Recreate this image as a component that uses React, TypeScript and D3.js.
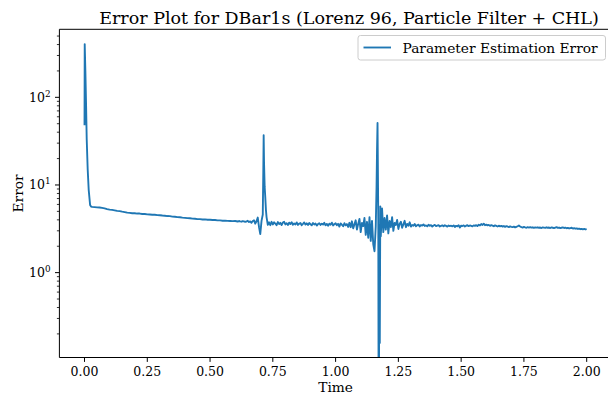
import React from "react";
import * as d3 from "d3";

// ---- data ----
const transientTime = [0, 0.0008, 0.0036, 0.0064, 0.0088, 0.0127, 0.0167, 0.0223, 0.026];
const transientError = [48, 405, 190, 78, 33, 15, 8.8, 5.9, 5.67];

// samples every 0.01 from 0.03 to 0.60
const gridAStart = 0.03;
const gridAStep = 0.01;
const gridAError = [
  5.62, 5.59, 5.56, 5.53, 5.47, 5.41, 5.31,
  5.23, 5.19, 5.14, 5.07, 5.03, 4.96, 4.91, 4.83, 4.80, 4.76,
  4.76, 4.72, 4.72, 4.67, 4.67, 4.62, 4.61, 4.57, 4.58, 4.53,
  4.52, 4.48, 4.46, 4.42, 4.41, 4.36, 4.34, 4.30, 4.28, 4.24,
  4.22, 4.18, 4.17, 4.13, 4.12, 4.08, 4.08, 4.04, 4.05, 4.01,
  4.01, 3.98, 3.98, 3.95, 3.94, 3.91, 3.91, 3.89, 3.88, 3.87,
  3.88,
];

// samples every 0.005 from 0.605 to 2.000
const gridBStart = 0.605;
const gridBStep = 0.005;
const gridBError = [
  3.86, 3.83, 3.88, 3.84, 3.81, 3.87, 3.85, 3.80, 3.83, 3.90,
  3.78, 3.84, 3.70, 3.88, 3.95, 3.62, 3.86, 4.25, 3.30, 2.75,
  3.90, 4.60, 18.0, 7.20, 4.30, 3.50, 3.75, 3.48, 3.80, 3.55,
  3.75, 3.62, 3.48, 3.78, 3.58, 3.70, 3.50, 3.72, 3.80, 3.55,
  3.66, 3.49, 3.72, 3.58, 3.76, 3.52, 3.64, 3.55, 3.74, 3.50,
  3.63, 3.68, 3.48, 3.60, 3.74, 3.53, 3.65, 3.50, 3.68, 3.57,
  3.47, 3.68, 3.54, 3.63, 3.44, 3.58, 3.66, 3.50, 3.62, 3.53,
  3.70, 3.47, 3.60, 3.42, 3.62, 3.52, 3.72, 3.45, 3.57, 3.66,
  3.48, 3.60, 3.35, 3.64, 3.52, 3.38, 3.66, 3.46, 3.58, 3.32,
  3.70, 3.30, 3.85, 3.20, 3.55, 3.95, 3.10, 3.60, 4.10, 2.90,
  3.70, 3.40, 4.20, 2.70, 3.80, 2.50, 4.30, 2.30, 3.90, 2.10,
  1.75, 3.40, 25.0, 4.00, 2.20, 2.60, 5.40, 2.90, 4.20, 3.10,
  4.50, 2.80, 3.90, 3.30, 4.30, 3.00, 3.70, 3.50, 4.00, 3.15,
  3.60, 3.80, 3.25, 3.55, 3.90, 3.30, 3.60, 3.42, 3.75, 3.35,
  3.50, 3.42, 3.58, 3.38, 3.47, 3.53, 3.36, 3.49, 3.44, 3.55,
  3.40, 3.46, 3.37, 3.52, 3.43, 3.48, 3.35, 3.45, 3.50, 3.39,
  3.44, 3.48, 3.36, 3.42, 3.46, 3.38, 3.47, 3.41, 3.35, 3.45,
  3.40, 3.43, 3.37, 3.46, 3.32, 3.42, 3.38, 3.47, 3.28, 3.44,
  3.40, 3.46, 3.36, 3.43, 3.48, 3.39, 3.45, 3.41, 3.37, 3.46,
  3.42, 3.48, 3.40, 3.52, 3.45, 3.58, 3.50, 3.62, 3.47, 3.53,
  3.46, 3.50, 3.42, 3.48, 3.44, 3.38, 3.46, 3.41, 3.36, 3.43,
  3.38, 3.42, 3.35, 3.40, 3.33, 3.39, 3.36, 3.31, 3.37, 3.33,
  3.30, 3.35, 3.28, 3.33, 3.38, 3.45, 3.36, 3.30, 3.27, 3.32,
  3.28, 3.25, 3.30, 3.27, 3.31, 3.26, 3.29, 3.24, 3.28, 3.26,
  3.29, 3.25, 3.27, 3.23, 3.28, 3.26, 3.24, 3.29, 3.25, 3.27,
  3.23, 3.28, 3.25, 3.22, 3.26, 3.30, 3.24, 3.27, 3.22, 3.25,
  3.28, 3.23, 3.26, 3.21, 3.24, 3.19, 3.22, 3.25, 3.18, 3.21,
  3.17, 3.20, 3.15, 3.18, 3.13, 3.16, 3.12, 3.15, 3.11, 3.13,
];

// extra samples at the two spikes
const spikeTime = [0.712, 0.7135, 0.7175, 0.7225, 1.163, 1.167, 1.172, 1.174, 1.176, 1.178];
const spikeError = [14, 37, 9.5, 5.2, 9.3, 51, 0.002, 3.5, 0.158, 5.7];

const xTicks = [0, 0.25, 0.5, 0.75, 1.0, 1.25, 1.5, 1.75, 2.0];
const yMajorExps = [0, 1, 2];

const W = 608;
const H = 396;
const left = 59.4;
const right = 611.8;
const top = 29.3;
const bottom = 357.5;
const FONT = "'DejaVu Serif', serif";

export default function App() {
  const points: [number, number][] = [];
  transientTime.forEach((t, i) => points.push([t, transientError[i]]));
  gridAError.forEach((v, i) => points.push([gridAStart + i * gridAStep, v]));
  gridBError.forEach((v, i) => points.push([gridBStart + i * gridBStep, v]));
  spikeTime.forEach((t, i) => points.push([t, spikeError[i]]));
  points.sort((a, b) => a[0] - b[0]);

  const x = d3.scaleLinear().domain([-0.1, 2.1]).range([left, right]);
  const y = d3.scaleLog().domain([0.1076, 597]).range([bottom, top]);

  const line = d3
    .line<[number, number]>()
    .x((d) => x(d[0]))
    .y((d) => y(d[1]));

  const minor: number[] = [];
  for (let e = -1; e <= 2; e++) {
    for (let m = 2; m <= 9; m++) {
      const v = m * Math.pow(10, e);
      if (v >= 0.1076 && v <= 597) minor.push(v);
    }
  }

  return (
    <svg
      width={W}
      height={H}
      style={{ position: "absolute", left: 0, top: 0, background: "#fff" }}
      fontFamily={FONT}
    >
      <defs>
        <clipPath id="plotclip">
          <rect x={left} y={top} width={right - left} height={bottom - top} />
        </clipPath>
      </defs>
      <rect x={0} y={0} width={W} height={H} fill="#fff" />
      <path
        d={line(points) || ""}
        fill="none"
        stroke="#1f77b4"
        strokeWidth={1.875}
        strokeLinejoin="round"
        clipPath="url(#plotclip)"
      />
      {/* spines */}
      <g stroke="#000" strokeWidth={1} fill="none">
        <line x1={left} y1={top} x2={left} y2={bottom} />
        <line x1={left} y1={bottom} x2={right} y2={bottom} />
        <line x1={left} y1={top} x2={right} y2={top} />
      </g>
      {/* x ticks */}
      {xTicks.map((t) => (
        <g key={"xt" + t}>
          <line x1={x(t)} x2={x(t)} y1={bottom} y2={bottom + 4.4} stroke="#000" strokeWidth={1} />
          <text x={x(t)} y={375.5} fontSize={12.5} textAnchor="middle" fill="#000">
            {t.toFixed(2)}
          </text>
        </g>
      ))}
      {/* y ticks */}
      {minor.map((v) => (
        <line key={"ym" + v} x1={left - 2.5} x2={left} y1={y(v)} y2={y(v)} stroke="#000" strokeWidth={0.8} />
      ))}
      {yMajorExps.map((e) => {
        const yy = y(Math.pow(10, e));
        return (
          <g key={"yt" + e}>
            <line x1={left - 4.4} x2={left} y1={yy} y2={yy} stroke="#000" strokeWidth={1} />
            <text x={left - 8.8} y={yy + 4.5} fontSize={12.5} textAnchor="end" fill="#000">
              10
              <tspan dy={-5} fontSize={8.8}>
                {e}
              </tspan>
            </text>
          </g>
        );
      })}
      {/* labels */}
      <text x={(left + right) / 2} y={391.5} fontSize={13.75} textAnchor="middle" fill="#000">
        Time
      </text>
      <text
        transform={`translate(22.5,${(top + bottom) / 2}) rotate(-90)`}
        fontSize={13.75}
        textAnchor="middle"
        fill="#000"
      >
        Error
      </text>
      <text x={349} y={24} fontSize={17.5} textAnchor="middle" fill="#000">
        Error Plot for DBar1s (Lorenz 96, Particle Filter + CHL)
      </text>
      {/* legend */}
      <g>
        <rect x={358} y={35.5} width={247.5} height={24.5} rx={2.5} fill="#fff" fillOpacity={0.8} stroke="#ccc" strokeWidth={1} />
        <line x1={363.5} x2={391} y1={47.5} y2={47.5} stroke="#1f77b4" strokeWidth={1.875} />
        <text x={402.5} y={52.5} fontSize={13.75} fill="#000">
          Parameter Estimation Error
        </text>
      </g>
    </svg>
  );
}
